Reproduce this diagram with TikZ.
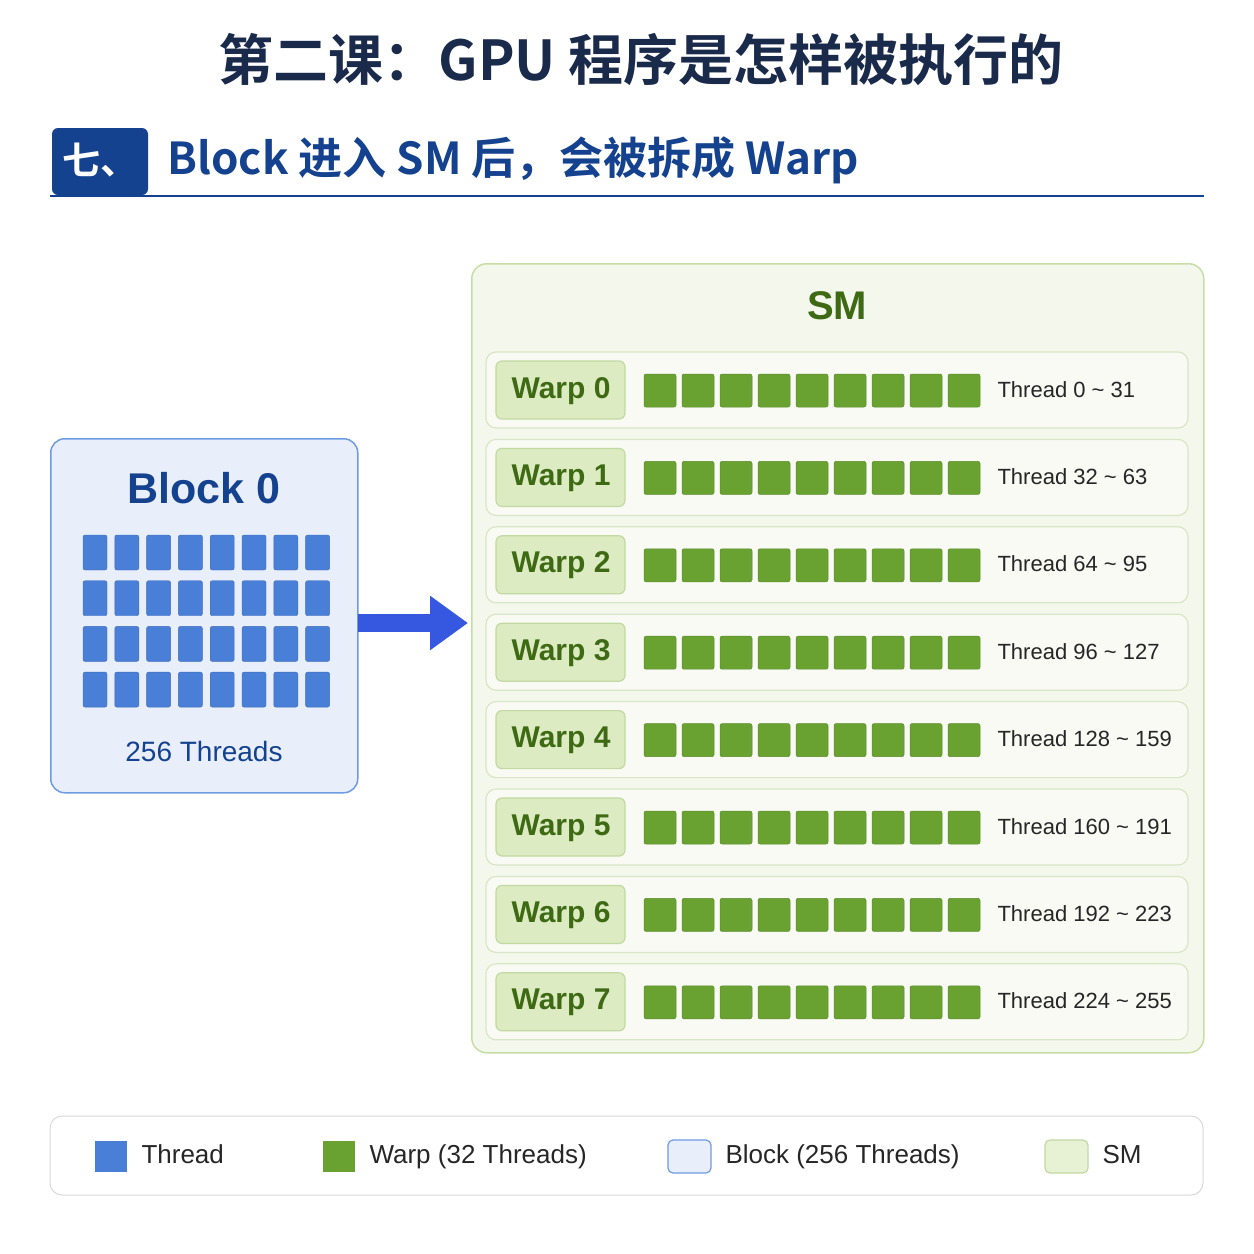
\documentclass[tikz,border=0pt]{standalone}
\usepackage{fontspec}
\setmainfont{Liberation Sans}
\newfontfamily\cjk{Noto Sans CJK SC}
\newfontfamily\cjkb{Noto Sans CJK SC Bold}
\usetikzlibrary{arrows.meta}
\definecolor{navy}{HTML}{1A2A4A}
\definecolor{secblue}{HTML}{15428F}
\definecolor{blkfill}{HTML}{E8EFFB}
\definecolor{blkline}{HTML}{6F9BE2}
\definecolor{thr}{HTML}{4A7FD8}
\definecolor{smfill}{HTML}{F4F8EC}
\definecolor{smline}{HTML}{C8DDA6}
\definecolor{rowfill}{HTML}{F8FAF3}
\definecolor{rowline}{HTML}{D9E6C6}
\definecolor{wfill}{HTML}{DCEBC2}
\definecolor{wline}{HTML}{C2D9A2}
\definecolor{wtext}{HTML}{3F6A14}
\definecolor{wsq}{HTML}{6AA232}
\definecolor{wsqline}{HTML}{5A8C28}
\definecolor{arr}{HTML}{3658E0}
\tikzset{
  thread/.style={fill=thr,draw=thr!85!black,line width=0.4pt,rounded corners=2pt},
  wsqs/.style={fill=wsq,draw=wsqline,line width=0.5pt,rounded corners=2pt},
  lab/.style={font=\fontsize{22}{24}\selectfont,text=black!85,anchor=west,text height=16pt,text depth=4pt},
  leg/.style={font=\fontsize{26}{28}\selectfont,text=black!85,anchor=west,text height=19pt,text depth=6pt}
}
\begin{document}
\begin{tikzpicture}[x=1pt,y=-1pt]
\useasboundingbox (0,0) rectangle (1254,1254);
\fill[white] (0,0) rectangle (1254,1254);
\node[font=\cjkb\fontsize{55}{60}\selectfont,text=navy] (title) at (641,60) {第二课：GPU 程序是怎样被执行的};
\fill[secblue,rounded corners=6pt] (52,128) rectangle (148,195);
\node[font=\cjkb\fontsize{38}{40}\selectfont,text=white] (sec) at (100,160) {七、};
\node[font=\cjkb\fontsize{44}{46}\selectfont,text=secblue,anchor=west] (sect) at (164,160) {Block 进入 SM 后，会被拆成 Warp};
\draw[secblue,line width=2pt] (50,196) -- (1204,196);
% Block
\node[draw=blkline,fill=blkfill,line width=1.5pt,rounded corners=14pt,minimum width=307,minimum height=354,anchor=north west] (blk) at (50,438) {};
\node[font=\bfseries\fontsize{43}{46}\selectfont,text=secblue] (bt) at (204,488) {Block 0};
\foreach \r in {0,...,3}{\foreach \c in {0,...,7}{
  \fill[thread] ({83+\c*31.8},{535+\r*45.7}) rectangle ++(24,35);}}
\node[font=\fontsize{28}{30}\selectfont,text=secblue] (bn) at (204,751) {256 Threads};
% SM
\node[draw=smline,fill=smfill,line width=1.5pt,rounded corners=15pt,minimum width=732,minimum height=789,anchor=north west] (sm) at (471,263) {};
\node[font=\bfseries\fontsize{40}{44}\selectfont,text=wtext] (smt) at (837,306) {SM};
\coordinate (a0) at (358,623);
\coordinate (a1) at (468,623);
\draw[-{Triangle[length=38,width=52]},arr,line width=18pt] (a0) -- (a1);
\foreach \i/\a/\b in {0/0/31,1/32/63,2/64/95,3/96/127,4/128/159,5/160/191,6/192/223,7/224/255}{
  \pgfmathsetmacro\y{352+\i*87.4}
  \fill[rowfill,draw=rowline,line width=1.2pt,rounded corners=10pt] (486,\y) rectangle (1188,\y+76);
  \fill[wfill,draw=wline,line width=1.2pt,rounded corners=6pt] (496,\y+9) rectangle (625,\y+67);
  \node[font=\bfseries\fontsize{30}{32}\selectfont,text=wtext,text height=22pt,text depth=6pt] (w\i) at (561,\y+38) {Warp \i};
  \foreach \k in {0,...,8}{\fill[wsqs] ({644+\k*38},\y+22) rectangle ++(32,33);}
  \node[lab] (t\i) at (994,\y+39) {Thread \a\ \textasciitilde\ \b};
}
% legend
\fill[white,draw=black!15,line width=1pt,rounded corners=12pt] (50,1116) rectangle (1203,1195);
\fill[thr] (95,1141) rectangle (127,1172);
\node[leg] (l1) at (138,1157) {Thread};
\fill[wsq] (323,1141) rectangle (355,1172);
\node[leg] (l2) at (366,1157) {Warp (32 Threads)};
\fill[blkfill,draw=blkline,line width=1.2pt,rounded corners=5pt] (668,1140) rectangle (711,1173);
\node[leg] (l3) at (722,1157) {Block (256 Threads)};
\fill[wfill!70!white,draw=wline,line width=1.2pt,rounded corners=5pt] (1045,1140) rectangle (1088,1173);
\node[leg] (l4) at (1099,1157) {SM};
\end{tikzpicture}
\end{document}
